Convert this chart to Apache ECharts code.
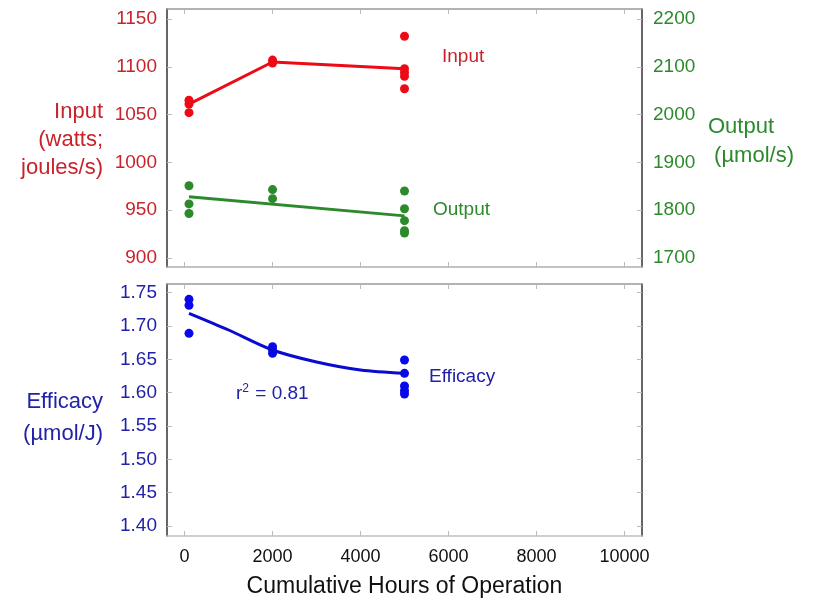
<!DOCTYPE html>
<html>
<head>
<meta charset="utf-8">
<script src="https://cdn.jsdelivr.net/npm/echarts@6/dist/echarts.min.js"></script>
<style>
  html, body { margin: 0; padding: 0; background: #fff; }
  #chart { width: 815px; height: 599px; }
</style>
</head>
<body>
<div id="chart"></div>
<script>
// input power (left axis, top panel)
const inputHours = [100, 100, 100, 2000, 2000, 5000, 5000, 5000, 5000, 5000]
const inputWatts = [1065, 1061, 1052, 1107, 1104, 1132, 1098, 1094, 1090, 1077]
const inputFitHours = [100, 2000, 5000]
const inputFitWatts = [1061, 1105, 1098]

// photon output (right axis, top panel)
const outputHours = [100, 100, 100, 2000, 2000, 5000, 5000, 5000, 5000, 5000]
const outputUmol = [1851, 1813, 1793, 1843, 1824, 1840, 1803, 1778, 1757, 1752]
const outputFitHours = [100, 5000]
const outputFitUmol = [1828, 1788]

// efficacy (bottom panel)
const effHours = [100, 100, 100, 2000, 2000, 2000, 5000, 5000, 5000, 5000, 5000]
const effValues = [1.740, 1.731, 1.689, 1.669, 1.664, 1.659, 1.649, 1.629, 1.610, 1.603, 1.598]
const effFitHours = [100, 1000, 2000, 3000, 4000, 5000]
const effFitValues = [1.719, 1.694, 1.664, 1.646, 1.634, 1.629]

// tick labels
const hourTicks = [0, 2000, 4000, 6000, 8000, 10000]
const inputTicks = [900, 950, 1000, 1050, 1100, 1150]
const outputTicks = [1700, 1800, 1900, 2000, 2100, 2200]
const effTicks = [1.40, 1.45, 1.50, 1.55, 1.60, 1.65, 1.70, 1.75]

const RED = '#ee0a14'
const RED_TXT = '#c8232b'
const GREEN = '#2c8a2c'
const BLUE = '#0808ea'
const BLUE_TXT = '#2222a8'
const FONT = 'Liberation Sans, Arial, sans-serif'

const pairs = (xs, ys) => xs.map((x, i) => [x, ys[i]])
const plain = (v) => String(v)

const tickStyle = (values) => ({
  show: true,
  inside: true,
  length: 5,
  customValues: values,
  lineStyle: { color: '#bbbbbb', width: 1 }
})

// empty first line used to nudge multi-line axis names down a little
const spacer = (h) => ({ s: { lineHeight: h, fontSize: 1 } })

const xBase = (gridIndex, position, showLabels, lineColor) => ({
  type: 'value',
  gridIndex,
  position,
  min: -400,
  max: 10400,
  splitLine: { show: false },
  axisLine: { show: true, onZero: false, lineStyle: { color: lineColor, width: 1.5 } },
  axisTick: tickStyle(hourTicks),
  axisLabel: {
    show: showLabels,
    customValues: hourTicks,
    color: '#111',
    fontSize: 18,
    fontFamily: FONT,
    margin: 12,
    formatter: plain
  }
})

const chart = echarts.init(document.getElementById('chart'))

const option = {
  animation: false,
  backgroundColor: '#fff',
  grid: [
    { left: 167, top: 9, width: 475, height: 258 },
    { left: 167, top: 284, width: 475, height: 259 }
  ],
  xAxis: [
    xBase(0, 'bottom', false, '#b0b0b0'),
    xBase(0, 'top', false, '#999999'),
    Object.assign(xBase(1, 'bottom', true, '#c0c0c0'), {
      name: 'Cumulative Hours of Operation',
      nameLocation: 'middle',
      nameGap: 39,
      nameTextStyle: { color: '#111', fontSize: 23, fontFamily: FONT }
    }),
    xBase(1, 'top', false, '#999999')
  ],
  yAxis: [
    {
      type: 'value',
      gridIndex: 0,
      position: 'left',
      min: 890.5,
      max: 1160.5,
      name: '{s|}\nInput\n(watts;\njoules/s)',
      nameLocation: 'middle',
      nameRotate: 0,
      nameGap: 64,
      nameTextStyle: { color: RED_TXT, fontSize: 22, fontFamily: FONT, align: 'right', lineHeight: 28, rich: spacer(4) },
      splitLine: { show: false },
      axisLine: { show: true, onZero: false, lineStyle: { color: '#333', width: 1.5 } },
      axisTick: tickStyle(inputTicks),
      axisLabel: { customValues: inputTicks, color: RED_TXT, fontSize: 19, fontFamily: FONT, margin: 10, formatter: plain }
    },
    {
      type: 'value',
      gridIndex: 0,
      position: 'right',
      min: 1681,
      max: 2221,
      name: '{s|}\nOutput\n (µmol/s)',
      nameLocation: 'middle',
      nameRotate: 0,
      nameGap: 66,
      nameTextStyle: { color: GREEN, fontSize: 22, fontFamily: FONT, align: 'left', lineHeight: 29, rich: spacer(7) },
      splitLine: { show: false },
      axisLine: { show: true, onZero: false, lineStyle: { color: '#333', width: 1.5 } },
      axisTick: tickStyle(outputTicks),
      axisLabel: { customValues: outputTicks, color: GREEN, fontSize: 19, fontFamily: FONT, margin: 11, formatter: plain }
    },
    {
      type: 'value',
      gridIndex: 1,
      position: 'left',
      min: 1.385,
      max: 1.763,
      name: '{s|}\nEfficacy\n(µmol/J)',
      nameLocation: 'middle',
      nameRotate: 0,
      nameGap: 64,
      nameTextStyle: { color: BLUE_TXT, fontSize: 22, fontFamily: FONT, align: 'right', lineHeight: 32, rich: spacer(15) },
      splitLine: { show: false },
      axisLine: { show: true, onZero: false, lineStyle: { color: '#333', width: 1.5 } },
      axisTick: tickStyle(effTicks),
      axisLabel: {
        customValues: effTicks,
        color: BLUE_TXT,
        fontSize: 19,
        fontFamily: FONT,
        margin: 10,
        formatter: (v) => v.toFixed(2)
      }
    },
    {
      type: 'value',
      gridIndex: 1,
      position: 'right',
      min: 1.385,
      max: 1.763,
      splitLine: { show: false },
      axisLine: { show: true, onZero: false, lineStyle: { color: '#333', width: 1.5 } },
      axisTick: tickStyle(effTicks),
      axisLabel: { show: false }
    }
  ],
  series: [
    {
      name: 'Input fit',
      type: 'line',
      xAxisIndex: 0,
      yAxisIndex: 0,
      data: pairs(inputFitHours, inputFitWatts),
      showSymbol: false,
      lineStyle: { color: RED, width: 3 }
    },
    {
      name: 'Input',
      type: 'scatter',
      xAxisIndex: 0,
      yAxisIndex: 0,
      data: pairs(inputHours, inputWatts),
      symbolSize: 9,
      itemStyle: { color: RED, opacity: 1 }
    },
    {
      name: 'Output fit',
      type: 'line',
      xAxisIndex: 0,
      yAxisIndex: 1,
      data: pairs(outputFitHours, outputFitUmol),
      showSymbol: false,
      lineStyle: { color: GREEN, width: 3 }
    },
    {
      name: 'Output',
      type: 'scatter',
      xAxisIndex: 0,
      yAxisIndex: 1,
      data: pairs(outputHours, outputUmol),
      symbolSize: 9,
      itemStyle: { color: GREEN, opacity: 1 }
    },
    {
      name: 'Efficacy fit',
      type: 'line',
      xAxisIndex: 2,
      yAxisIndex: 2,
      data: pairs(effFitHours, effFitValues),
      smooth: 0.3,
      showSymbol: false,
      lineStyle: { color: '#0a0ad0', width: 3 }
    },
    {
      name: 'Efficacy',
      type: 'scatter',
      xAxisIndex: 2,
      yAxisIndex: 2,
      data: pairs(effHours, effValues),
      symbolSize: 9,
      itemStyle: { color: BLUE, opacity: 1 }
    }
  ],
  graphic: [
    { type: 'text', left: 442, top: 47, style: { text: 'Input', fill: RED_TXT, font: '19px ' + FONT } },
    { type: 'text', left: 433, top: 200, style: { text: 'Output', fill: GREEN, font: '19px ' + FONT } },
    { type: 'text', left: 429, top: 367, style: { text: 'Efficacy', fill: BLUE_TXT, font: '19px ' + FONT } },
    {
      type: 'text',
      left: 236,
      top: 383,
      style: {
        text: 'r{sup|2} = 0.81',
        fill: BLUE_TXT,
        font: '19px ' + FONT,
        rich: {
          sup: { fontSize: 12, fontFamily: FONT, fill: BLUE_TXT, verticalAlign: 'top', padding: [0, 1, 10, 0] }
        }
      }
    }
  ]
}

chart.setOption(option)
</script>
</body>
</html>
